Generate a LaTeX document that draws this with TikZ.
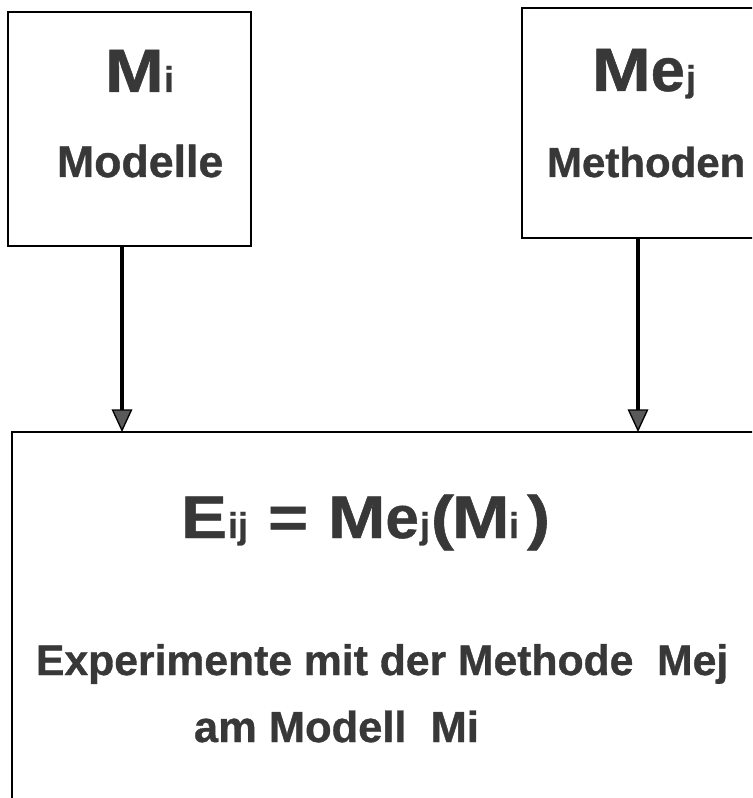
\documentclass[tikz,border=0pt]{standalone}
\usepackage{fontspec}
\setmainfont{Liberation Sans}[BoldFeatures={FakeBold=0.8}]
\usetikzlibrary{arrows.meta}
\definecolor{ink}{gray}{0.22}
\definecolor{tipgray}{gray}{0.35}
\newcommand\wideT[1]{\scalebox{1.15}[1]{#1}}
\begin{document}
\begin{tikzpicture}[x=0.75pt,y=-0.75pt,
  box/.style={draw=black, line width=1.1pt, inner sep=0pt, outer sep=0pt},
  txt/.style={inner sep=0pt, outer sep=0pt, anchor=base west, text=ink},
  mid/.style={txt, font=\bfseries\fontsize{32.6pt}{36pt}\selectfont},
  big/.style={txt, font=\bfseries\fontsize{45pt}{50pt}\selectfont},
  sub/.style={txt, font=\bfseries\fontsize{27pt}{30pt}\selectfont},
  arr/.style={draw=black, line width=3pt, -{Triangle[length=17pt,width=15.5pt,line width=1pt,fill=tipgray]}}]
\useasboundingbox (0,0) rectangle (752,798);
\clip (0,0) rectangle (752,798);
\fill[white] (0,0) rectangle (752,798);

% boxes
\node[box, minimum width=182.25pt, minimum height=175.5pt] (lbox) at (129.5,129) {};
\node[box, minimum width=208.5pt, minimum height=172.5pt] (rbox) at (661,123) {};
\node[box, minimum width=591pt, minimum height=313.5pt] (bbox) at (406,641) {};

% arrows
\coordinate (la) at (122,0);
\coordinate (ra) at (638,0);
\draw[arr] (lbox.south -| la) -- (bbox.north -| la);
\draw[arr] (rbox.south -| ra) -- (bbox.north -| ra);

% left box text
\node[big, font=\bfseries\fontsize{46pt}{50pt}\selectfont] (lM) at (105,92) {\wideT{M}};
\node[sub] (li) at (164,92) {i};
\node[mid, font=\bfseries\fontsize{33.5pt}{36pt}\selectfont] (lname) at (57,177) {Modelle};

% right box text
\node[big, font=\bfseries\fontsize{46pt}{50pt}\selectfont] (rM) at (592,91) {\wideT{M}e};
\node[sub] (rj) at (686,91) {j};
\node[mid, font=\bfseries\fontsize{31.5pt}{36pt}\selectfont] (rname) at (547,177) {Methoden};

% equation
\node[big] (eE) at (181,538) {\wideT{E}};
\node[sub] (eij) at (228,538) {ij};
\node[big] (eeq) at (268,538) {\wideT{=}};
\node[big] (eMe) at (328,538) {\wideT{M}e};
\node[sub] (ej) at (420,538) {j};
\node[big] (eop) at (431,538) {\wideT{(}};
\node[big] (eM) at (452,538) {\wideT{M}};
\node[sub] (ei) at (509,538) {i};
\node[big] (ecp) at (527,538) {\wideT{)}};

% description
\node[mid, font=\bfseries\fontsize{32pt}{36pt}\selectfont] (d1) at (36,675) {Experimente mit der Methode~~Mej};
\node[mid] (d2) at (194,742) {am Modell~~Mi};
\end{tikzpicture}
\end{document}
